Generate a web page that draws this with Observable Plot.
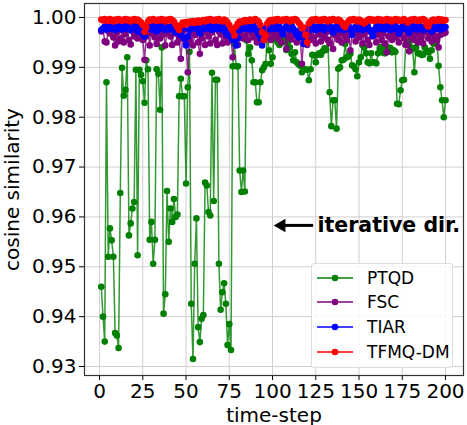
<!DOCTYPE html>
<html><head><meta charset="utf-8">
<script src="https://cdn.jsdelivr.net/npm/d3@7"></script>
<script src="https://cdn.jsdelivr.net/npm/@observablehq/plot@0.6"></script>
<style>
body{margin:0;background:#fff;font-family:"DejaVu Sans",sans-serif;}
#wrap{position:relative;width:467px;height:425px;}
#legend{position:absolute;left:311px;top:263px;width:142px;height:105px;border:1px solid #ddd;border-radius:3px;background:rgba(255,255,255,0.85);box-sizing:border-box;}
.item{position:absolute;left:0;height:24px;display:flex;align-items:center;font-size:17px;color:#000;white-space:nowrap;}
.item svg{margin-left:5px;margin-right:14px;}
</style></head><body><div id="wrap"></div>
<script>
const timeSteps = d3.range(1, 201);
const xTicks = [0, 25, 50, 75, 100, 125, 150, 175, 200];
const yTicks = [0.93, 0.94, 0.95, 0.96, 0.97, 0.98, 0.99, 1.00];
const seriesNames = ["PTQD", "FSC", "TIAR", "TFMQ-DM"];
const seriesColors = ["#008000", "#800080", "#0000ff", "#ff0000"];

const ptqd = [
0.946,0.940,0.935,0.987,0.952,0.9577,0.9553,0.952,0.9367,0.9362,0.9337,0.9648,0.9899,0.9843,0.9855,0.992,0.9563,0.9587,0.9617,0.963,
0.9895,0.9523,0.9895,0.9885,0.9872,0.9829,0.9914,0.9896,0.9554,0.959,0.9506,0.9554,0.9896,0.9887,0.9815,0.994,0.9406,0.9445,0.9652,0.955,
0.9617,0.959,0.9636,0.960,0.9605,0.9842,0.9877,0.9842,0.9842,0.9667,0.986,0.9931,0.9426,0.9315,0.9506,0.9597,0.9379,0.9349,0.9396,0.9403,
0.9669,0.9663,0.961,0.9603,0.9889,0.9632,0.9875,0.9875,0.9506,0.9414,0.9449,0.9467,0.9426,0.9343,0.9385,0.9333,0.9902,0.9947,0.9902,0.9902,
0.9693,0.965,0.9693,0.9651,0.9954,0.9927,0.994,0.9914,0.987,0.987,0.983,0.983,0.987,0.9894,0.990,0.9907,0.9964,0.9934,0.9907,0.992,
0.9967,0.9955,0.995,0.9945,0.9962,0.995,0.9958,0.9935,0.9952,0.994,0.9927,0.9914,0.993,0.991,0.9906,0.9903,0.989,0.9896,0.9896,0.9895,
0.9874,0.9896,0.9925,0.9924,0.991,0.9925,0.9928,0.9925,0.9932,0.9938,0.9935,0.9955,0.985,0.9782,0.9834,0.9834,0.9777,0.9897,0.990,0.9914,
0.9915,0.9947,0.992,0.9922,0.9927,0.9904,0.9902,0.9896,0.9882,0.991,0.992,0.9945,0.994,0.9928,0.991,0.9908,0.9928,0.991,0.991,0.9908,
0.9928,0.9938,0.9941,0.9929,0.9928,0.9941,0.9935,0.9939,0.993,0.9934,0.9931,0.9827,0.9826,0.9854,0.9874,0.9875,0.9946,0.9949,0.9951,0.994,
0.9937,0.989,0.994,0.9928,0.9928,0.9925,0.9925,0.994,0.9934,0.993,0.9917,0.9934,0.9948,0.9948,0.9955,0.9903,0.986,0.9834,0.980,0.9834
];
const fsc = [
0.9972,0.9976,0.9952,0.9950,0.9973,0.9968,0.9978,0.9960,0.9944,0.9970,0.9952,0.9958,0.9975,0.9950,0.9967,0.9977,0.9955,0.9946,0.9972,0.9962,
0.9978,0.9958,0.9970,0.9976,0.9955,0.9915,0.9962,0.9975,0.9944,0.9968,0.9978,0.9960,0.9947,0.9972,0.9958,0.9975,0.9966,0.9944,0.9970,0.9978,
0.9962,0.9945,0.9974,0.9968,0.9950,0.9960,0.9917,0.9958,0.9975,0.9948,0.9890,0.9955,0.9972,0.9944,0.9965,0.9976,0.9950,0.9927,0.9958,0.9970,
0.9945,0.9975,0.9962,0.9948,0.9970,0.9978,0.9955,0.9945,0.9972,0.9966,0.9948,0.9975,0.9960,0.9950,0.9972,0.9958,0.9920,0.9962,0.9975,0.9945,
0.9968,0.9976,0.9958,0.9964,0.9978,0.9955,0.9972,0.9968,0.9960,0.9976,0.9950,0.9972,0.9965,0.9978,0.9954,0.9970,0.9962,0.9976,0.9955,0.9972,
0.9966,0.9978,0.9958,0.9972,0.9950,0.9968,0.9975,0.9937,0.9962,0.9970,0.9956,0.9974,0.9965,0.9950,0.9972,0.9960,0.9907,0.9958,0.9970,0.9945,
0.9968,0.9955,0.9974,0.9960,0.9948,0.9972,0.9966,0.9952,0.9975,0.9960,0.9970,0.9955,0.9948,0.9972,0.9937,0.9965,0.9975,0.9955,0.9968,0.9950,
0.9974,0.9962,0.9955,0.9970,0.9934,0.9965,0.9975,0.9952,0.9968,0.9960,0.9974,0.9948,0.9966,0.9972,0.9955,0.9945,0.9970,0.9962,0.9975,0.9950,
0.9966,0.9972,0.9955,0.9968,0.9948,0.9930,0.9962,0.9974,0.9955,0.9968,0.9960,0.9972,0.9950,0.9966,0.9975,0.9958,0.9945,0.9968,0.9932,0.9962,
0.9974,0.9955,0.9966,0.9950,0.9972,0.9960,0.9948,0.9970,0.9975,0.9958,0.9966,0.9952,0.9970,0.9962,0.9955,0.9940,0.9965,0.9972,0.9968,0.9970
];
const tiar = [
0.9975,0.9978,0.9982,0.9976,0.9984,0.9980,0.9977,0.9983,0.9975,0.9981,0.9978,0.9984,0.9976,0.9980,0.9983,0.9977,0.9982,0.9975,0.9980,0.9984,
0.9978,0.9972,0.9982,0.9976,0.9966,0.9962,0.9978,0.9983,0.9980,0.9976,0.9984,0.9978,0.9972,0.9982,0.9977,0.9984,0.9979,0.9975,0.9982,0.9980,
0.9976,0.9983,0.9978,0.9970,0.9982,0.9976,0.9964,0.9978,0.9958,0.9944,0.9962,0.9975,0.9980,0.9984,0.9978,0.9982,0.9976,0.9968,0.9980,0.9983,
0.9977,0.9982,0.9978,0.9984,0.9975,0.9980,0.9983,0.9977,0.9982,0.9976,0.9984,0.9979,0.9970,0.9965,0.9975,0.9960,0.9955,0.9968,0.9944,0.9958,
0.9975,0.9982,0.9978,0.9984,0.9977,0.9982,0.9976,0.9980,0.9984,0.9978,0.9972,0.9966,0.9958,0.9944,0.9962,0.9978,0.9982,0.9976,0.9984,0.9980,
0.9977,0.9983,0.9978,0.9982,0.9975,0.9966,0.9978,0.9983,0.9980,0.9976,0.9984,0.9978,0.9972,0.9966,0.9960,0.9975,0.9962,0.9947,0.9970,0.9978,
0.9982,0.9976,0.9984,0.9979,0.9975,0.9982,0.9977,0.9983,0.9978,0.9975,0.9982,0.9979,0.9984,0.9977,0.9970,0.9980,0.9983,0.9976,0.9982,0.9978,
0.9975,0.9982,0.9977,0.9983,0.9976,0.9965,0.9978,0.9982,0.9976,0.9984,0.9979,0.9975,0.9982,0.9978,0.9984,0.9976,0.9972,0.9963,0.9975,0.9982,
0.9978,0.9984,0.9977,0.9982,0.9976,0.9983,0.9978,0.9975,0.9982,0.9977,0.9984,0.9979,0.9968,0.9976,0.9982,0.9978,0.9984,0.9976,0.9970,0.9978,
0.9983,0.9977,0.9982,0.9976,0.9984,0.9978,0.9975,0.9982,0.9977,0.9983,0.9978,0.9972,0.9980,0.9984,0.9977,0.9982,0.9976,0.9983,0.9978,0.9981
];
const tfmq = [
0.9996,0.9994,0.9997,0.9995,0.9993,0.9997,0.9995,0.9992,0.9996,0.9994,0.9997,0.9995,0.9993,0.9996,0.9997,0.9994,0.9996,0.9992,0.9995,0.9997,
0.9994,0.9996,0.9993,0.9990,0.9985,0.9971,0.9980,0.9992,0.9996,0.9994,0.9997,0.9995,0.9993,0.9996,0.9994,0.9997,0.9995,0.9992,0.9996,0.9994,
0.9997,0.9995,0.9992,0.9986,0.9980,0.9975,0.9984,0.9990,0.9986,0.9991,0.9988,0.9992,0.9990,0.9993,0.9989,0.9992,0.9994,0.9990,0.9993,0.9995,
0.9992,0.9996,0.9994,0.9997,0.9995,0.9993,0.9996,0.9994,0.9997,0.9995,0.9992,0.9996,0.9994,0.9990,0.9985,0.9978,0.9974,0.9964,0.9982,0.9988,
0.9992,0.9990,0.9993,0.9995,0.9992,0.9994,0.9996,0.9993,0.9995,0.9997,0.9994,0.9992,0.9985,0.9970,0.9955,0.9964,0.9988,0.9993,0.9995,0.9992,
0.9996,0.9994,0.9997,0.9995,0.9993,0.9996,0.9994,0.9997,0.9995,0.9992,0.9996,0.9994,0.9997,0.9995,0.9990,0.9986,0.9978,0.9980,0.9965,0.9950,
0.9988,0.9993,0.9996,0.9994,0.9997,0.9995,0.9993,0.9996,0.9994,0.9997,0.9995,0.9992,0.9996,0.9994,0.9997,0.9995,0.9993,0.9996,0.9994,0.9990,
0.9984,0.9981,0.9988,0.9993,0.9996,0.9994,0.9997,0.9995,0.9992,0.9996,0.9994,0.9990,0.9988,0.9992,0.9995,0.9997,0.9994,0.9996,0.9993,0.9995,
0.9997,0.9994,0.9996,0.9993,0.9995,0.9997,0.9994,0.9996,0.9992,0.9995,0.9997,0.9994,0.9996,0.9993,0.9995,0.9997,0.9994,0.9990,0.9993,0.9996,
0.9994,0.9997,0.9995,0.9993,0.9996,0.9994,0.9997,0.9995,0.9986,0.9982,0.9990,0.9994,0.9996,0.9993,0.9995,0.9997,0.9994,0.9996,0.9993,0.9995
];
const seriesValues = [ptqd, fsc, tiar, tfmq];

const annotationText = "iterative dir.";
const annotationY = 0.9583;
const arrowTail = 123.5, arrowHead = 103.2, textStart = 126;

const seriesMarks = seriesValues.flatMap((vals, i) => {
  const data = timeSteps.map((t, j) => ({t, v: vals[j]}));
  return [
    Plot.line(data, {x: "t", y: "v", stroke: seriesColors[i], strokeWidth: 1.5, strokeOpacity: 0.8}),
    Plot.dot(data, {x: "t", y: "v", fill: seriesColors[i], r: 3.3, stroke: "none"})
  ];
});

const chart = Plot.plot({
  width: 467, height: 425,
  marginLeft: 84, marginRight: 4, marginTop: 3, marginBottom: 50,
  style: {fontFamily: "DejaVu Sans", fontSize: "20px", color: "#000", background: "white"},
  x: {domain: [-8.7, 210.4]},
  y: {domain: [0.9282, 1.0028]},
  marks: [
    Plot.gridX(xTicks, {stroke: "#cfcfcf", strokeOpacity: 1}),
    Plot.gridY(yTicks, {stroke: "#cfcfcf", strokeOpacity: 1}),
    ...seriesMarks,
    Plot.link([0], {x1: arrowTail, x2: arrowHead + 3, y1: annotationY, y2: annotationY, stroke: "#000", strokeWidth: 3}),
    Plot.dot([0], {x: arrowHead + 2, y: annotationY, symbol: "triangle", r: 5, fill: "#000", rotate: -90}),
    Plot.text([annotationText], {x: textStart, y: annotationY, text: d => d, textAnchor: "start", fontWeight: "bold", fontSize: 20.5, fill: "#000"}),
    Plot.axisX(xTicks, {tickSize: 5, tickPadding: 3, fontSize: 20, label: "time-step", labelAnchor: "center", labelOffset: 46, labelArrow: "none"}),
    Plot.axisY(yTicks, {tickSize: 5, tickPadding: 3, fontSize: 20, tickFormat: ".2f", label: "cosine similarity", labelAnchor: "center", labelOffset: 80, labelArrow: "none"}),
    Plot.frame({stroke: "#333", strokeWidth: 1.2})
  ]
});

const wrap = document.getElementById("wrap");
wrap.appendChild(chart);
const legend = document.createElement("div");
legend.id = "legend";
seriesNames.forEach((name, i) => {
  const item = document.createElement("div");
  item.className = "item";
  item.style.top = (1.5 + i * 24.8) + "px";
  item.innerHTML = `<svg width="36" height="10"><line x1="0" y1="5" x2="36" y2="5" stroke="${seriesColors[i]}" stroke-width="1.5"/><circle cx="18" cy="5" r="3.3" fill="${seriesColors[i]}"/></svg><span>${name}</span>`;
  legend.appendChild(item);
});
wrap.appendChild(legend);
</script>
</body></html>
